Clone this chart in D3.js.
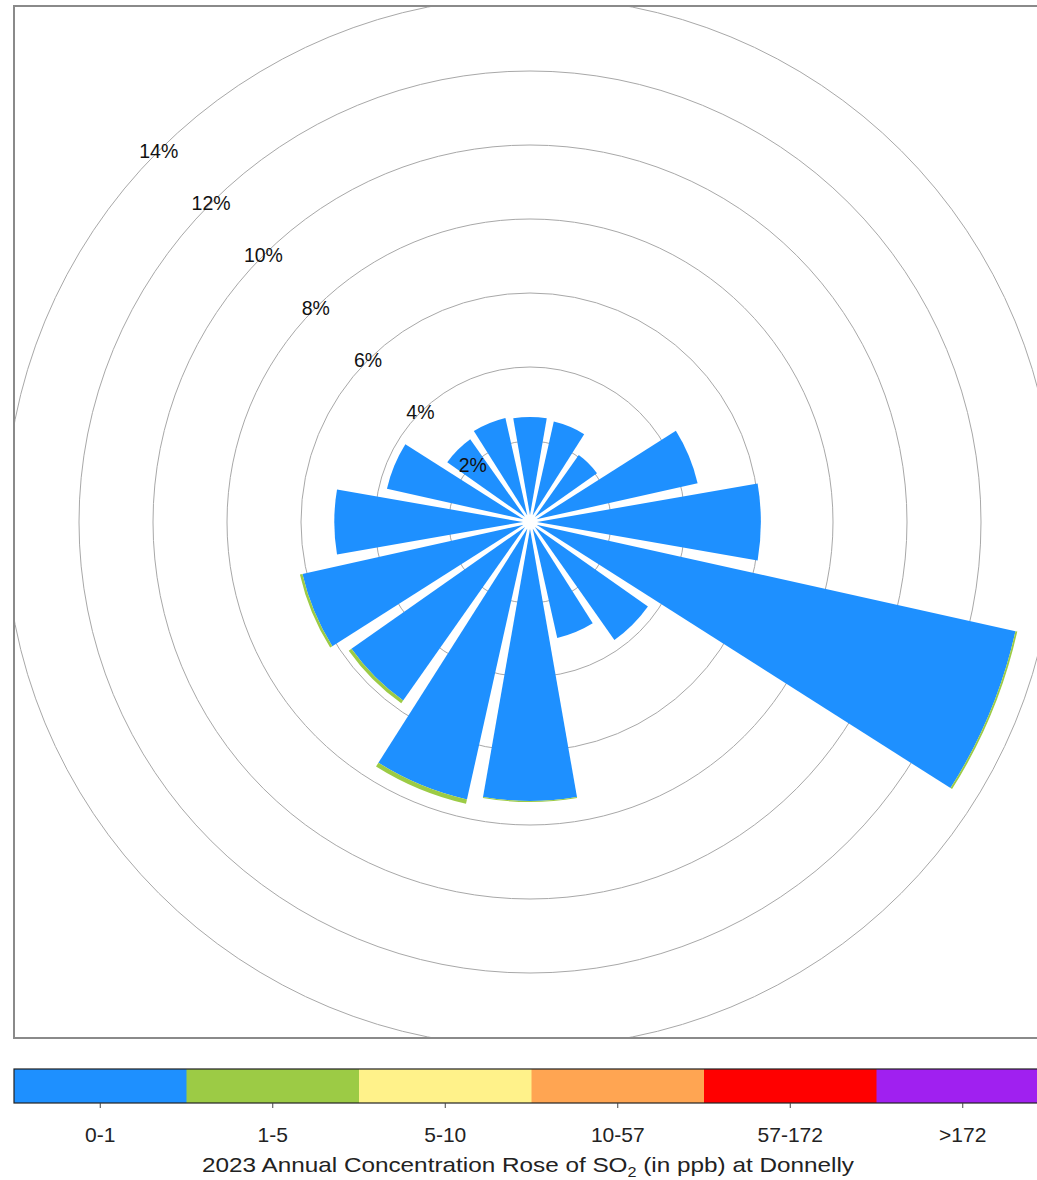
<!DOCTYPE html>
<html>
<head>
<meta charset="utf-8">
<script src="https://cdn.jsdelivr.net/npm/d3@7"></script>
<style>
  html, body { margin: 0; padding: 0; background: #fff; }
  svg { display: block; font-family: "Liberation Sans", Arial, sans-serif; }
</style>
</head>
<body>
<svg id="chart" width="1037" height="1180"></svg>
<script>
// ---- data ----
const directions = [0, 22.5, 45, 67.5, 90, 112.5, 135, 157.5, 180, 202.5, 225, 247.5, 270, 292.5, 315, 337.5];
const bin01   = [2.65, 2.6, 2.05, 4.46, 6.05, 13.26, 3.73, 3.03, 7.35, 7.5, 5.73, 6.12, 5.1, 3.78, 2.57, 2.7];
const bin1to5 = [0, 0, 0, 0, 0, 0.05, 0, 0, 0.03, 0.12, 0.09, 0.07, 0, 0, 0, 0];
const bin5to10 = [0, 0, 0, 0, 0, 0, 0, 0, 0, 0, 0, 0, 0, 0, 0, 0];
const bin10to57 = [0, 0, 0, 0, 0, 0, 0, 0, 0, 0, 0, 0, 0, 0, 0, 0];
const bin57to172 = [0, 0, 0, 0, 0, 0, 0, 0, 0, 0, 0, 0, 0, 0, 0, 0];
const binOver172 = [0, 0, 0, 0, 0, 0, 0, 0, 0, 0, 0, 0, 0, 0, 0, 0];
const binLabels = ["0-1", "1-5", "5-10", "10-57", "57-172", ">172"];
const binColors = ["#1E90FF", "#9CCB45", "#FFF28A", "#FFA552", "#FF0000", "#A020F0"];
const ringValues = [2, 4, 6, 8, 10, 12, 14];
const ringLabels = ["2%", "4%", "6%", "8%", "10%", "12%", "14%"];

const seriesAll = [bin01, bin1to5, bin5to10, bin10to57, bin57to172, binOver172];

// ---- layout ----
const svg = d3.select("#chart");
const panel = {x: 14, y: 6, w: 1032, h: 1032};
const cx = 530, cy = 522;
const r = d3.scaleLinear().domain([0, 14]).range([7, 525]);
const halfWidth = 10 * Math.PI / 180;

svg.append("defs").append("clipPath").attr("id", "pclip")
  .append("rect").attr("x", panel.x).attr("y", panel.y).attr("width", panel.w).attr("height", panel.h);

const g = svg.append("g").attr("clip-path", "url(#pclip)");
const c = g.append("g").attr("transform", `translate(${cx},${cy})`);

// rings
c.selectAll("circle.ring").data(ringValues).join("circle")
  .attr("class", "ring")
  .attr("r", d => r(d))
  .attr("fill", "none")
  .attr("stroke", "#a8a8a8")
  .attr("stroke-width", 1);

// stacked wedges
const stack = [];
directions.forEach((dir, i) => {
  let cum = 0;
  seriesAll.forEach((s, k) => {
    const v = s[i];
    if (v > 0) {
      stack.push({dir, k, v0: cum, v1: cum + v});
    }
    cum += v;
  });
});
const arc = d3.arc()
  .innerRadius(d => r(d.v0))
  .outerRadius(d => r(d.v1))
  .startAngle(d => d.dir * Math.PI / 180 - halfWidth)
  .endAngle(d => d.dir * Math.PI / 180 + halfWidth)
  .padAngle(0.03)
  .padRadius(100);
c.selectAll("path.wedge").data(stack).join("path")
  .attr("class", "wedge")
  .attr("d", arc)
  .attr("fill", d => binColors[d.k]);

// center hole
c.append("circle").attr("r", 7).attr("fill", "#fff");

// ring labels along 315 degrees
const la = -45 * Math.PI / 180;
c.selectAll("text.rl").data(ringValues).join("text")
  .attr("class", "rl")
  .attr("x", d => r(d) * Math.sin(la))
  .attr("y", d => -r(d) * Math.cos(la))
  .attr("text-anchor", "middle")
  .attr("dominant-baseline", "central")
  .attr("font-size", 19.5)
  .attr("fill", "#111")
  .text((d, i) => ringLabels[i]);

// panel border
svg.append("rect")
  .attr("x", panel.x).attr("y", panel.y).attr("width", panel.w).attr("height", panel.h)
  .attr("fill", "none").attr("stroke", "#8a8a8a").attr("stroke-width", 2);

// ---- colour key ----
const kx = d3.scaleBand().domain(binLabels).range([14, 1049]).paddingInner(0).paddingOuter(0);
const keyY = 1069, keyH = 34;
const key = svg.append("g");
key.selectAll("rect.k").data(binLabels).join("rect")
  .attr("class", "k")
  .attr("x", d => kx(d))
  .attr("y", keyY)
  .attr("width", kx.bandwidth() + 0.5)
  .attr("height", keyH)
  .attr("fill", (d, i) => binColors[i]);
key.append("rect")
  .attr("x", 14).attr("y", keyY).attr("width", 1035).attr("height", keyH)
  .attr("fill", "none").attr("stroke", "#222").attr("stroke-width", 1.2);

const axis = d3.axisBottom(kx).tickSize(5).tickPadding(19);
const ax = svg.append("g").attr("transform", `translate(0,${keyY + keyH})`).call(axis);
ax.select(".domain").remove();
ax.selectAll(".tick line").attr("stroke", "#444");
ax.selectAll(".tick text")
  .attr("font-size", 21)
  .attr("font-family", "Liberation Sans, Arial, sans-serif")
  .attr("fill", "#222");

// title
const title = svg.append("text")
  .attr("x", 528).attr("y", 1172)
  .attr("text-anchor", "middle")
  .attr("font-size", 21)
  .attr("textLength", 652)
  .attr("lengthAdjust", "spacingAndGlyphs")
  .attr("fill", "#222");
title.append("tspan").text("2023 Annual Concentration Rose of SO");
title.append("tspan").attr("font-size", 14).attr("dy", 5).text("2");
title.append("tspan").attr("dy", -5).text(" (in ppb) at Donnelly");
</script>
</body>
</html>
